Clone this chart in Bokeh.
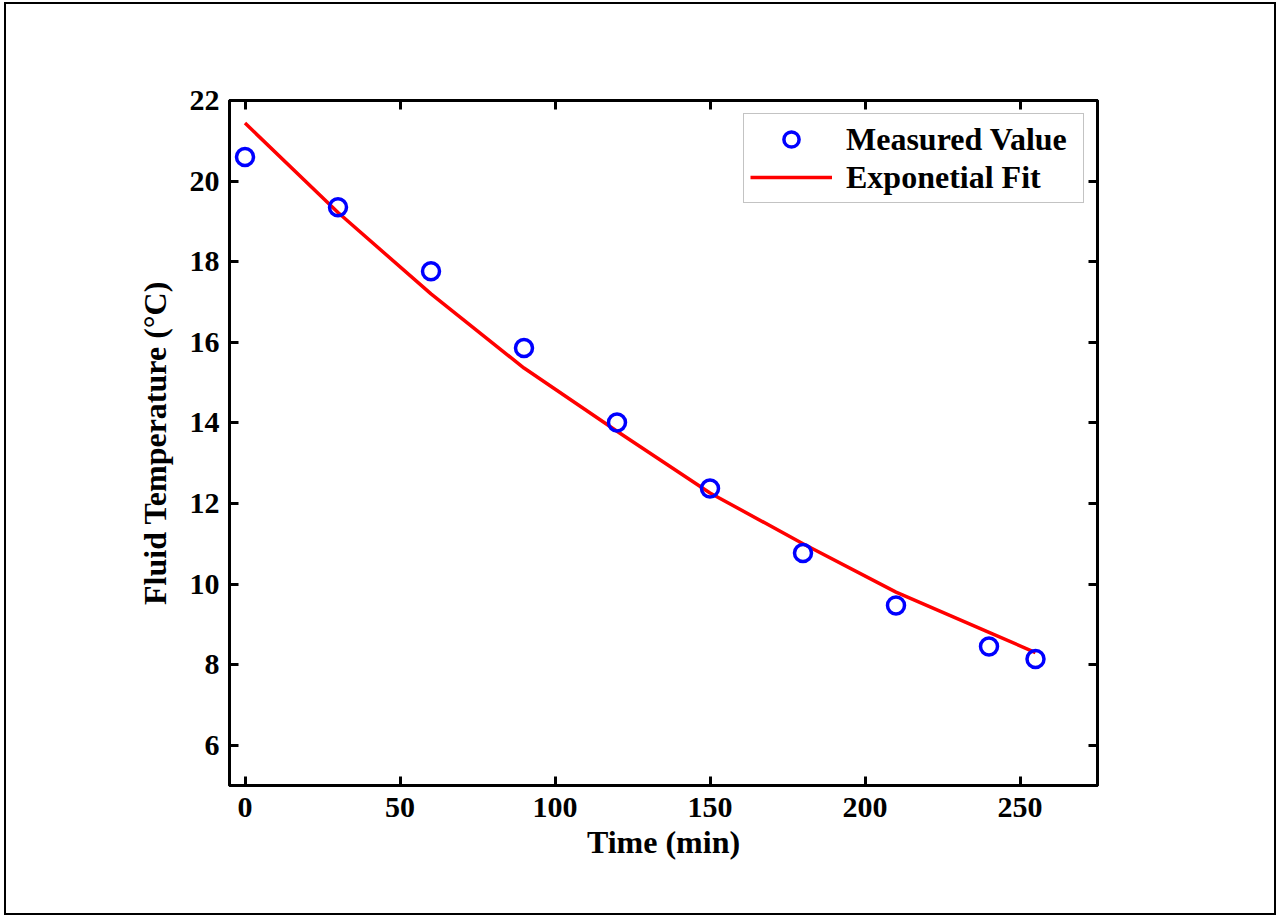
from bokeh.plotting import figure
from bokeh.layouts import column
from bokeh.models import Range1d, LinearAxis, FixedTicker, Legend, LegendItem
from bokeh.embed import file_html
from bokeh.resources import INLINE

# Data
time_min = [0, 30, 60, 90, 120, 150, 180, 210, 240, 255]
measured = [20.6, 19.35, 17.76, 15.86, 14.01, 12.37, 10.77, 9.47, 8.45, 8.14]
fit_vals = [21.44, 19.22, 17.2, 15.36, 13.79, 12.26, 11.0, 9.8, 8.8, 8.3]
x_ticks = [0, 50, 100, 150, 200, 250]
y_ticks = [6, 8, 10, 12, 14, 16, 18, 20, 22]

FONT = "Liberation Serif"

p = figure(width=1268, height=909, output_backend="svg", toolbar_location=None,
           x_range=Range1d(-5, 275), y_range=Range1d(5, 22),
           min_border_left=223, min_border_right=177, min_border_top=96, min_border_bottom=128)
p.background_fill_color = "white"
p.border_fill_color = "white"
p.grid.visible = False
p.outline_line_color = "black"
p.outline_line_width = 3

def style_axis(ax, ticks, show_labels=True):
    ax.ticker = FixedTicker(ticks=ticks)
    ax.axis_line_width = 3
    ax.axis_line_color = "black"
    ax.major_tick_in = 9
    ax.major_tick_out = 0
    ax.major_tick_line_width = 3
    ax.minor_tick_line_color = None
    ax.major_label_text_font = FONT
    ax.major_label_text_font_style = "bold"
    ax.major_label_text_font_size = "30px"
    ax.major_label_text_color = "black"
    if not show_labels:
        ax.major_label_text_alpha = 0
        ax.major_label_text_font_size = "1px"

style_axis(p.xaxis[0], x_ticks)
style_axis(p.yaxis[0], y_ticks)
p.xaxis[0].major_label_standoff = 12
p.yaxis[0].major_label_standoff = 10
p.xaxis[0].axis_label = "Time (min)"
p.yaxis[0].axis_label = "Fluid Temperature (°C)"
for ax in (p.xaxis[0], p.yaxis[0]):
    ax.axis_label_text_font = FONT
    ax.axis_label_text_font_style = "bold"
    ax.axis_label_text_font_size = "32px"
    ax.axis_label_text_color = "black"
p.xaxis[0].axis_label_standoff = 4
p.yaxis[0].axis_label_standoff = 14

ax_top = LinearAxis()
style_axis(ax_top, x_ticks, show_labels=False)
p.add_layout(ax_top, "above")
ax_right = LinearAxis()
style_axis(ax_right, y_ticks, show_labels=False)
p.add_layout(ax_right, "right")

fit_r = p.line(time_min, fit_vals, line_color="#ff0000", line_width=3.5)
meas_r = p.scatter(time_min, measured, marker="circle", size=17, line_color="#0000ff",
                   line_width=3.5, fill_color=None)

legend = Legend(items=[LegendItem(label="Measured Value", renderers=[meas_r]),
                       LegendItem(label="Exponetial Fit", renderers=[fit_r])],
                location="top_right")
legend.margin = 13
legend.padding = 6
legend.spacing = 0
legend.glyph_width = 82
legend.glyph_height = 38
legend.label_height = 38
legend.label_width = 231
legend.label_standoff = 14
legend.label_text_font = FONT
legend.label_text_font_style = "bold"
legend.label_text_font_size = "32px"
legend.label_text_color = "black"
legend.border_line_color = "#888888"
legend.border_line_width = 1
legend.background_fill_color = "white"
legend.background_fill_alpha = 1
p.add_layout(legend, "center")

layout = column(p, styles={"border": "2px solid black", "margin-left": "4px", "margin-top": "2px"})

open("out.html", "w").write(file_html(layout, INLINE))
